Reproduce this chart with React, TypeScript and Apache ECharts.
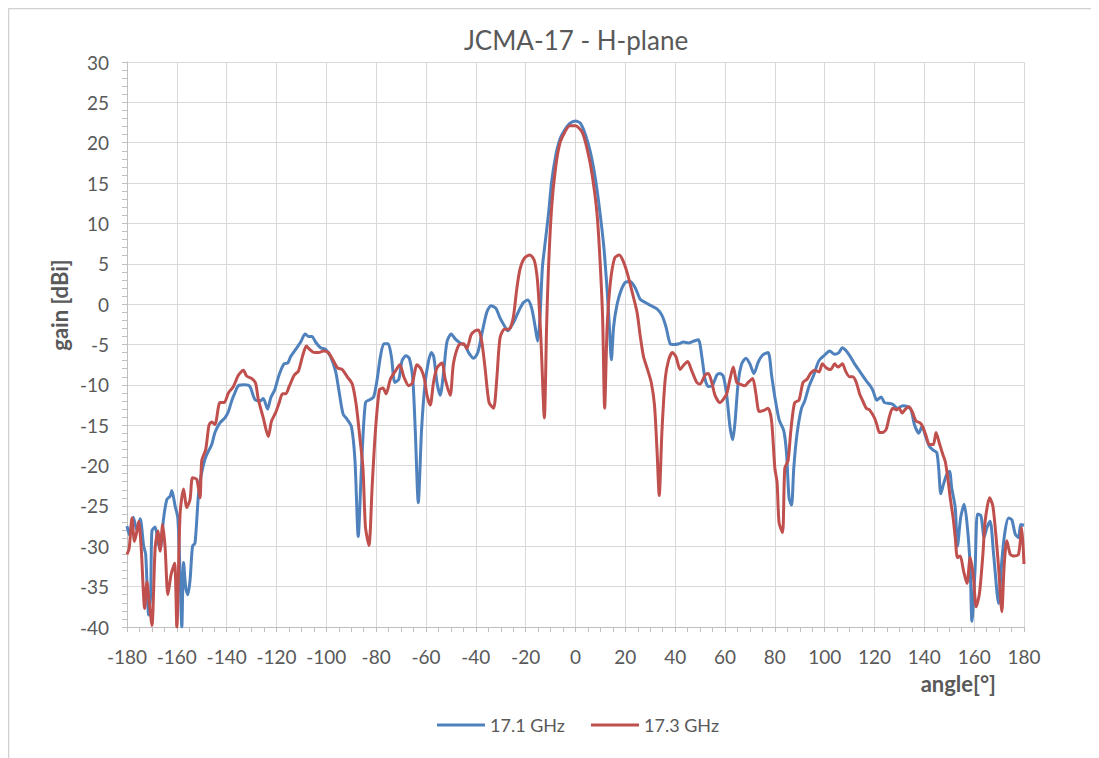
import React, { useEffect, useRef } from "react";
import * as echarts from "echarts";

const titleText = "JCMA-17 - H-plane";
const xAxisTitle = "angle[°]";
const yAxisTitle = "gain [dBi]";
const seriesNames = ["17.1 GHz", "17.3 GHz"];
const seriesColors = ["#4F81BD", "#C0504D"];

// [angle (deg), gain (dBi)]
const gain171: number[][] = [
  [-180, -27.5], [-179, -28.6], [-177.5, -26.4], [-176, -28], [-174.7, -26.6], [-173.3, -30], [-172.5, -31],
  [-171.3, -38.5], [-170.5, -36], [-170, -28.1], [-168.7, -27.6], [-167.6, -29.4], [-166.7, -30.4], [-165.3, -26.5],
  [-164, -24.2], [-162.7, -23.8], [-162, -23.1], [-160.7, -25], [-159.6, -26.5], [-158.7, -33.5], [-158, -40],
  [-157.3, -32], [-156.4, -35.2], [-155.6, -36], [-154.7, -34.2], [-153.7, -30], [-152.7, -29.6], [-151.3, -23.5],
  [-150.3, -21.3], [-148.7, -19.2], [-147.3, -18.2], [-146, -17.4], [-144.7, -15.9], [-142.7, -14.7], [-140.7, -14.1],
  [-139.3, -13.3], [-138, -12], [-136.7, -11], [-135.3, -10.1], [-132.7, -10], [-130.7, -10.2], [-128.7, -11.8],
  [-126.7, -12], [-125.3, -11.7], [-123.6, -13], [-122.3, -11.6], [-120.7, -10.6], [-119, -8.8], [-117, -7.4],
  [-115.5, -7.3], [-114.3, -6.5], [-112.3, -5.6], [-110.3, -4.7], [-108.5, -3.7], [-107.2, -4], [-105.8, -4],
  [-104.3, -4.7], [-102.3, -5.4], [-100.3, -5.6], [-98.3, -6.5], [-96.3, -8.3], [-95, -10.6], [-93.3, -13.6],
  [-91.6, -14.3], [-89.9, -15.2], [-88.5, -19.4], [-87.2, -28.8], [-85.9, -20.3], [-84.3, -12.2], [-82.3, -11.8],
  [-81, -11.5], [-79.6, -9.3], [-78.3, -6.5], [-76.9, -4.9], [-75.2, -4.9], [-73.9, -6.5], [-72.5, -9.7],
  [-70.9, -9.3], [-69.6, -7], [-68, -6.4], [-66.7, -6.7], [-65.3, -9.3], [-64.3, -15.7], [-63.1, -24.6],
  [-61.8, -15.7], [-60.5, -10.2], [-59.2, -7.4], [-57.9, -6], [-56.9, -6.5], [-55.6, -9.7], [-54.3, -11.3],
  [-52.9, -8.3], [-51.6, -4.7], [-49.9, -3.7], [-48.3, -4.3], [-46.3, -4.8], [-44.3, -5.1], [-42.9, -6],
  [-40.9, -6.7], [-39.2, -6], [-37.6, -3.7], [-35.6, -1], [-33.9, -0.2], [-32, -0.5], [-30.3, -1.7],
  [-28.5, -2.7], [-27.2, -3.3], [-25.9, -2.8], [-24.3, -1.9], [-22.7, -0.8], [-20.9, 0.2], [-19.2, 0.5],
  [-17.6, -0.5], [-16.3, -2.6], [-15.2, -4.6], [-14.3, -1.9], [-13.3, 4.5], [-12.3, 7.3], [-10.9, 11],
  [-9.6, 15.1], [-8, 18.3], [-6.3, 20.4], [-4.3, 21.6], [-2.3, 22.4], [0, 22.7], [2, 22.4], [4, 21],
  [6, 18.8], [8, 15.5], [9.6, 11.9], [11.3, 7.3], [12.7, 1.7], [13.6, -2.8], [14.4, -6.9], [15.3, -2.8],
  [16.7, 0], [18.4, 1.8], [20, 2.7], [22, 2.8], [24, 2], [26, 0.6], [28, 0.2], [30.4, -0.2], [32.7, -0.6],
  [34.7, -1.4], [36.3, -2.8], [38, -4.9], [39.7, -5], [41.5, -4.9], [43.3, -4.7], [45.3, -4.8], [47.3, -4.6],
  [49.3, -4.4], [50.7, -6.5], [52, -9.3], [53.3, -10.2], [54.9, -10.1], [56.7, -8.8], [58, -8.6], [59.3, -8.9],
  [60.7, -11.3], [62, -15.2], [63.1, -16.8], [64, -14.7], [65.3, -9.7], [66.7, -7.4], [68.4, -6.7], [70, -7.4],
  [71.6, -8.6], [73.3, -7.2], [75.1, -6.3], [77.3, -6], [78.7, -8.8], [80, -11.5], [81.7, -14.3], [83.6, -15.7],
  [84.7, -18.5], [85.7, -24], [86.7, -24.9], [87.6, -20.3], [88.9, -16.1], [90.7, -12.9], [92, -12],
  [93.7, -10.2], [95.6, -8.8], [97.7, -7], [100, -6.3], [102, -5.8], [104, -6.2], [105.7, -6], [107.1, -5.4],
  [108.7, -5.8], [110.3, -6.5], [112, -7.4], [114, -8.3], [116.7, -9.5], [118.5, -10.2], [119.5, -10.8],
  [120.9, -11.9], [122.7, -11.5], [124, -12.2], [126, -12.3], [127.3, -12.4], [129.3, -12.9], [131.3, -12.6],
  [133.3, -12.7], [134.7, -13.1], [136, -14.9], [137.8, -16], [139.1, -15.1], [140.4, -16.3], [142, -17.6],
  [143.6, -18.1], [145, -18.4], [145.8, -20.5], [146.6, -23.5], [147.7, -22.3], [149, -21.1], [150.1, -20.7],
  [151, -22.8], [152.4, -25.2], [153.3, -30], [154.6, -26.4], [156, -24.8], [157.3, -27.7], [158.4, -32.6],
  [159.1, -39.3], [160.4, -32.6], [161.3, -26], [162.7, -26.2], [164, -28.9], [165.1, -27.7], [166.4, -26.9],
  [167.8, -31], [169.8, -37.1], [171.1, -31.8], [172.4, -28.1], [173.8, -26.5], [175.1, -26.7], [176.5, -28.5],
  [177.8, -28.9], [178.7, -27.3], [180, -27.4],
];

const gain173: number[][] = [
  [-180, -31], [-179.1, -30.2], [-178, -26.5], [-177, -29.4], [-176, -28.1], [-175.3, -26.9], [-174.3, -30.2],
  [-172.9, -37.7], [-172, -34.4], [-171.1, -36.9], [-170, -39.8], [-168.7, -30.2], [-167.6, -28.1], [-166.7, -30.6],
  [-165.7, -27.3], [-164.7, -30.2], [-163.6, -36], [-162.3, -33.5], [-160.9, -32.1], [-160, -40], [-158.7, -26],
  [-157.3, -22.9], [-156, -25.2], [-154.7, -24.2], [-153.7, -21.5], [-152, -21.7], [-150.7, -24], [-150, -19.4],
  [-148.4, -18], [-147.1, -15], [-146, -14.6], [-144.7, -14.9], [-142.7, -12.2], [-141, -12.2], [-139.3, -11],
  [-137.3, -10.2], [-135.3, -8.8], [-133.3, -8.2], [-132, -8.9], [-130, -9.2], [-128.4, -9.8], [-127.3, -11.8],
  [-125.3, -14.1], [-123.3, -16.4], [-122, -14.5], [-120.3, -13.4], [-118.9, -12.2], [-117.6, -11.1],
  [-116.3, -11.1], [-114.9, -10.2], [-112.9, -8.8], [-111.2, -8.3], [-109.6, -6.5], [-108, -5.2], [-106.7, -5.6],
  [-104.9, -6], [-103, -6], [-101.2, -5.8], [-99.2, -6], [-97.2, -7], [-95.5, -7.9], [-93.6, -8.1], [-91.6, -9],
  [-89.6, -9.9], [-88, -12.5], [-86.7, -16.1], [-85.3, -20.3], [-84.3, -27.6], [-82.9, -29.9], [-81.6, -22.5],
  [-80.3, -15.7], [-78.7, -10.6], [-77.3, -10.4], [-76, -11.1], [-74.3, -9.3], [-72.3, -8.3], [-70.5, -7.5],
  [-68.9, -9], [-66.9, -10.1], [-65.5, -9.8], [-63.6, -7.5], [-61.9, -8.1], [-60.6, -9.3], [-59.6, -11.3],
  [-58.3, -12.5], [-57, -9.7], [-55.6, -7.9], [-53.6, -7.3], [-52.3, -9.3], [-50.3, -11.3], [-49, -7.4],
  [-46.9, -5.1], [-44.9, -4.9], [-43.6, -5.5], [-41.9, -3.8], [-40.3, -3.3], [-38.9, -3.2], [-37.6, -4.7],
  [-36.3, -7.9], [-34.7, -12.2], [-32.9, -12.9], [-31.6, -9.3], [-30.3, -4.2], [-28.5, -3.1], [-26.7, -3.1],
  [-25, -1.7], [-23.6, 1.8], [-22.3, 4.3], [-20.5, 5.7], [-18.3, 6.1], [-16.5, 5.4], [-15.2, 2.7], [-13.9, -4.2],
  [-12.5, -14.1], [-11.6, -2.8], [-10.9, 4], [-9.6, 11.9], [-8, 16.9], [-6.3, 19.9], [-4.3, 21.3], [-2.3, 22.1],
  [0, 22.1], [2.7, 21.3], [4.7, 19.2], [6.7, 16], [8.7, 11], [10, 4.5], [10.9, -1.9], [11.7, -12.9], [12.7, -2.8],
  [14, 2.7], [15.7, 5.7], [17.6, 6.1], [19.3, 5.2], [21, 3.6], [22.9, 1.3], [24.7, -1], [26, -4], [27.3, -6.5],
  [28.7, -7.9], [30.4, -9.7], [31.7, -12.5], [32.7, -18], [33.6, -23.7], [34.7, -15.7], [36, -9.3], [37.3, -7],
  [38.9, -6], [40.3, -6.5], [42, -8.1], [43.3, -7.6], [45, -7.1], [46.7, -8.3], [48.7, -9.7], [50, -9.9],
  [52, -8.8], [53.3, -8.6], [54.7, -9.7], [56, -11.3], [58, -12.2], [59.3, -11.8], [60.7, -11.1], [62, -9.3],
  [63.3, -7.8], [64.7, -9.7], [66, -9.9], [68, -10.1], [69.3, -9.7], [71.1, -9.2], [72.4, -11.1], [73.7, -13.3],
  [75.3, -13.2], [77.3, -12.9], [78.7, -14.5], [80, -20.3], [80.9, -22.1], [81.7, -27.1], [83.1, -28.3],
  [84, -20.3], [85.3, -19.4], [86.3, -16.1], [87.1, -13.8], [88, -12.2], [89.7, -11.9], [91.3, -9.7],
  [92.9, -9.3], [94.3, -8.6], [96, -8.2], [97.7, -8.4], [99.1, -7.4], [100.7, -7.9], [102.4, -8.1], [104, -7.4],
  [105.3, -7.8], [107.1, -7.4], [108.4, -8.3], [110, -9], [111.3, -9], [112.7, -9.7], [114, -11.1], [115.3, -12],
  [116.7, -12.9], [118, -13.1], [120, -14.1], [121, -15], [122, -15.9], [123.3, -15.9], [124.7, -15.5],
  [126, -13.9], [127.3, -12.9], [128.9, -13.1], [129.9, -12.9], [131.1, -13.5], [132.4, -13], [133.8, -12.7],
  [135.1, -13.3], [136.7, -14.5], [138.3, -14.7], [139.4, -15.2], [140.7, -16.3], [142, -17.4], [143.6, -17.4],
  [144.7, -15.9], [146, -17.2], [147.4, -18.6], [148.4, -19.5], [149.4, -21.5], [150.4, -24], [151.6, -26.6],
  [152.4, -28.9], [153.3, -31.4], [154.4, -31.2], [155.7, -33], [157.1, -34.6], [158.4, -31.4], [159.7, -33.8],
  [160.8, -37.5], [162.1, -35.9], [163.5, -31], [164.4, -26.9], [166.2, -24], [167.5, -25], [168.8, -28.9],
  [169.8, -32.6], [171.1, -38.1], [172, -32.6], [173.1, -29.3], [174.5, -31], [176.1, -31.2], [177.8, -31],
  [179.1, -27.7], [180, -32.2],
];

const xRange = { min: -180, max: 180, interval: 20 };
const yRange = { min: -40, max: 30, interval: 5 };

const FONT = "Lato, 'Open Sans', sans-serif";
const TEXT_COLOR = "#595959";
const GRID_COLOR = "#d9d9d9";

export default function App() {
  const ref = useRef<HTMLDivElement>(null);

  useEffect(() => {
    if (!ref.current) return;
    const chart = echarts.init(ref.current, undefined, { renderer: "svg" });
    const seriesData = [gain171, gain173];
    chart.setOption({
      animation: false,
      backgroundColor: "#ffffff",
      textStyle: { fontFamily: FONT },
      grid: { left: 119, right: 75, top: 54, bottom: 131, containLabel: false },
      legend: {
        left: 424,
        top: 702,
        icon: "rect",
        itemWidth: 48,
        itemHeight: 3,
        itemGap: 26,
        itemTextGap: 6,
        textStyle: { fontFamily: FONT, fontSize: 18, color: TEXT_COLOR, lineHeight: 20 },
        data: seriesNames,
      },
      xAxis: {
        type: "value",
        min: xRange.min,
        max: xRange.max,
        interval: xRange.interval,
        axisLine: { onZero: false, lineStyle: { color: "#bfbfbf", width: 1 } },
        axisTick: { show: true, length: 5, lineStyle: { color: "#bfbfbf" } },
        minorTick: { show: true, splitNumber: 4, length: 5, lineStyle: { color: "#bfbfbf" } },
        splitLine: { show: true, lineStyle: { color: GRID_COLOR, width: 1 } },
        axisLabel: { fontFamily: FONT, fontSize: 19, color: TEXT_COLOR, margin: 20 },
      },
      yAxis: {
        type: "value",
        min: yRange.min,
        max: yRange.max,
        interval: yRange.interval,
        axisLine: { show: true, onZero: false, lineStyle: { color: "#bfbfbf", width: 1 } },
        axisTick: { show: true, length: 5, lineStyle: { color: "#bfbfbf" } },
        minorTick: { show: true, splitNumber: 5, length: 5, lineStyle: { color: "#bfbfbf" } },
        splitLine: { show: true, lineStyle: { color: GRID_COLOR, width: 1 } },
        axisLabel: { fontFamily: FONT, fontSize: 19, color: TEXT_COLOR, margin: 18 },
      },
      graphic: [
        { type: "line", shape: { x1: 0.5, y1: 0.5, x2: 1100, y2: 0.5 }, style: { stroke: "#d0d0d0", lineWidth: 1.5 }, silent: true },
        { type: "line", shape: { x1: 0.5, y1: 0.5, x2: 0.5, y2: 760 }, style: { stroke: "#d0d0d0", lineWidth: 1.5 }, silent: true },
        {
          type: "text",
          x: 568,
          y: 32,
          style: { text: titleText, fontFamily: FONT, fontSize: 26, fill: TEXT_COLOR, textAlign: "center", textVerticalAlign: "middle" },
        },
        {
          type: "text",
          x: 51,
          y: 297,
          rotation: Math.PI / 2,
          style: { text: yAxisTitle, fontFamily: FONT, fontSize: 22, fontWeight: "bold", fill: TEXT_COLOR, textAlign: "center", textVerticalAlign: "middle" },
        },
        {
          type: "text",
          x: 988,
          y: 675,
          style: { text: xAxisTitle, fontFamily: FONT, fontSize: 22, fontWeight: "bold", fill: TEXT_COLOR, textAlign: "right", textVerticalAlign: "middle" },
        },
      ],
      series: seriesNames.map((name, i) => ({
        name,
        type: "line",
        data: seriesData[i],
        showSymbol: false,
        symbol: "none",
        smooth: 0.25,
        clip: true,
        lineStyle: { color: seriesColors[i], width: 3 },
        itemStyle: { color: seriesColors[i] },
      })),
    });
    return () => chart.dispose();
  }, []);

  return <div ref={ref} style={{ width: 1091, height: 750, overflow: "hidden" }} />;
}
